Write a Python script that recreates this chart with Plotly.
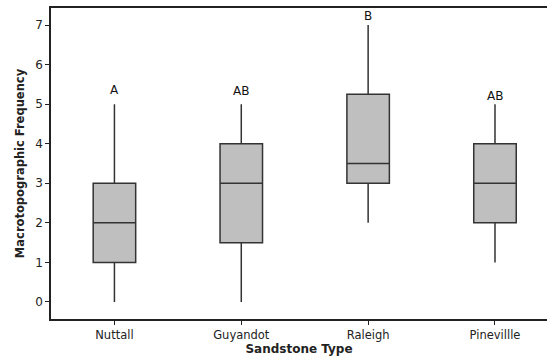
import plotly.graph_objects as go

categories = ["Nuttall", "Guyandot", "Raleigh", "Pinevillle"]
lower = [0, 0, 2, 1]
q1 = [1, 1.5, 3, 2]
median = [2, 3, 3.5, 3]
q3 = [3, 4, 5.25, 4]
upper = [5, 5, 7, 5]
letters = ["A", "AB", "B", "AB"]
letter_y = [5.35, 5.33, 7.24, 5.21]

fig = go.Figure()
fig.add_trace(go.Box(
    x=categories, q1=q1, median=median, q3=q3,
    lowerfence=lower, upperfence=upper,
    fillcolor="#bfbfbf",
    line=dict(color="#333333", width=1.5),
    width=0.335,
    whiskerwidth=0,
    boxpoints=False,
    hoverinfo="skip",
))

for c, t, y in zip(categories, letters, letter_y):
    fig.add_annotation(x=c, y=y, text=t, showarrow=False,
                       font=dict(family="DejaVu Sans", size=12, color="#111111"),
                       yanchor="middle")

fig.update_layout(
    width=547, height=362,
    margin=dict(l=51, r=0, t=8, b=43),
    plot_bgcolor="white", paper_bgcolor="white",
    showlegend=False,
    font=dict(family="DejaVu Sans", size=12, color="#222222"),
    xaxis=dict(
        type="category", range=[-0.5, 3.41],
        showline=True, linecolor="#222222", linewidth=1.5, mirror=True,
        ticks="outside", ticklen=4, tickcolor="#222222",
        showgrid=False, zeroline=False,
        title=dict(text="<b>Sandstone Type</b>", font=dict(size=12), standoff=4),
        tickfont=dict(size=11.5),
    ),
    yaxis=dict(
        range=[-0.43, 7.43],
        tickvals=[0, 1, 2, 3, 4, 5, 6, 7],
        showline=True, linecolor="#222222", linewidth=1.5,
        ticks="outside", ticklen=4, tickcolor="#222222",
        showgrid=False, zeroline=False,
        title=dict(text="<b>Macrotopographic Frequency</b>", font=dict(size=11.5), standoff=8),
        tickfont=dict(size=12),
    ),
)

fig.write_html("out.html")
